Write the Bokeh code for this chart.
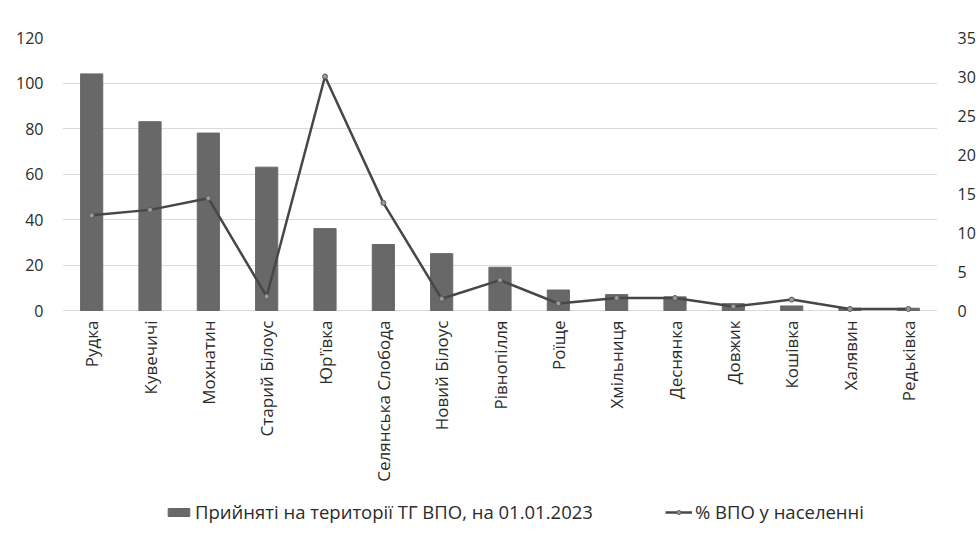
import math
from bokeh.plotting import figure
from bokeh.models import (ColumnDataSource, Range1d, LinearAxis, FixedTicker,
                          Legend, LegendItem, FactorRange)
from bokeh.core.properties import value
from bokeh.embed import file_html
from bokeh.resources import INLINE

categories = ["Рудка", "Кувечичі", "Мохнатин", "Старий Білоус", "Юр'ївка",
              "Селянська Слобода", "Новий Білоус", "Рівнопілля", "Роїще",
              "Хмільниця", "Деснянка", "Довжик", "Кошівка", "Халявин", "Редьківка"]
idp_count = [104, 83, 78, 63, 36, 29, 25, 19, 9, 7, 6, 3, 2, 1, 1]
idp_pct = [12.2, 12.9, 14.4, 1.8, 30.0, 13.8, 1.5, 3.9, 0.9, 1.6, 1.6, 0.5, 1.4, 0.2, 0.2]
left_ticks = [0, 20, 40, 60, 80, 100, 120]
right_ticks = [0, 5, 10, 15, 20, 25, 30, 35]
left_max = 120
right_max = 35

bar_label = "Прийняті на території ТГ ВПО, на 01.01.2023"
line_label = "% ВПО у населенні"

# layout (pixels): value area height and room under the zero line for labels/legend
VALUE_H = 273
BELOW_H = 235

src = ColumnDataSource(dict(cat=categories, cnt=idp_count, pct=idp_pct,
                            zero=[0] * len(categories)))

FONT = "Open Sans"
TXT = "#2b2b2b"

p = figure(frame_width=875, frame_height=VALUE_H + BELOW_H,
           x_range=FactorRange(*categories, range_padding=0),
           y_range=Range1d(-left_max * BELOW_H / VALUE_H, left_max),
           output_backend="svg", toolbar_location=None,
           min_border_left=62, min_border_right=40, min_border_top=37,
           min_border_bottom=0)
p.extra_y_ranges = {"pct": Range1d(-right_max * BELOW_H / VALUE_H, right_max)}

bars = p.vbar(x="cat", top="cnt", width=0.38, source=src, fill_color="#686868",
              line_color="#686868")
ln = p.line(x="cat", y="pct", source=src, y_range_name="pct", line_color="#474747",
            line_width=2.5)
pts = p.scatter(x="cat", y="pct", source=src, y_range_name="pct", size=5,
                fill_color="#9a9a9a", line_color="#5a5a5a", line_width=1)

# category labels under the zero line, reading bottom-to-top
p.text(x="cat", y="zero", text="cat", source=src, angle=math.pi / 2,
       text_align="right", text_baseline="middle", y_offset=10,
       text_font=value(FONT), text_font_size="17px", text_color=TXT)

p.outline_line_color = None
p.background_fill_color = "white"
p.border_fill_color = "white"
p.xgrid.grid_line_color = None
p.ygrid.grid_line_color = "#dadada"
p.ygrid.grid_line_width = 1
p.ygrid.ticker = FixedTicker(ticks=left_ticks)

p.xaxis.visible = False

# left axis
p.yaxis.ticker = FixedTicker(ticks=left_ticks)
p.yaxis.axis_line_color = None
p.yaxis.major_tick_line_color = None
p.yaxis.minor_tick_line_color = None
p.yaxis.major_tick_out = 0
p.yaxis.major_tick_in = 0
p.yaxis.major_label_standoff = 19
p.yaxis.major_label_text_font = FONT
p.yaxis.major_label_text_font_size = "16px"
p.yaxis.major_label_text_color = TXT

# right axis
ra = LinearAxis(y_range_name="pct", ticker=FixedTicker(ticks=right_ticks))
ra.axis_line_color = None
ra.major_tick_line_color = None
ra.minor_tick_line_color = None
ra.major_tick_out = 0
ra.major_tick_in = 0
ra.major_label_standoff = 20
ra.major_label_text_font = FONT
ra.major_label_text_font_size = "16px"
ra.major_label_text_color = TXT
p.add_layout(ra, "right")

legend = Legend(items=[LegendItem(label=bar_label, renderers=[bars]),
                       LegendItem(label=line_label, renderers=[ln, pts])],
                orientation="horizontal", location=(103, 21), spacing=72,
                glyph_width=27, glyph_height=10, label_standoff=3,
                label_text_font=FONT, label_text_font_size="18.5px",
                label_text_color=TXT, border_line_color=None,
                background_fill_alpha=0, margin=0, padding=0)
p.add_layout(legend, "center")

open("out.html", "w").write(file_html(p, INLINE))
